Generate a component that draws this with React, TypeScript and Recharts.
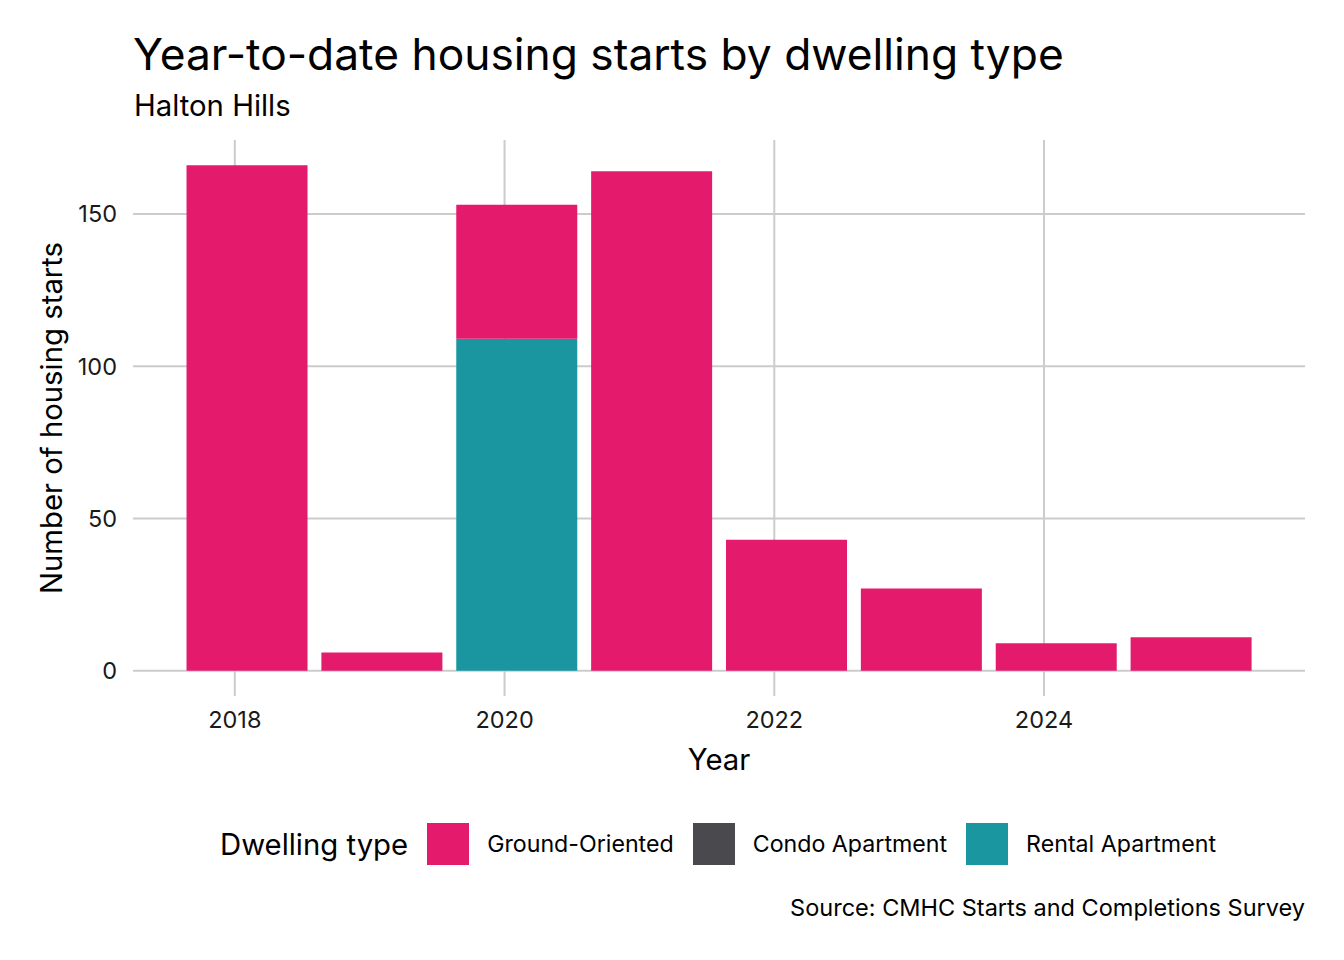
import React from "react";
import { BarChart, Bar, XAxis, YAxis, CartesianGrid } from "recharts";

// Bar positions on the time axis (year-to-date periods) and values
const periods = [2018.09, 2019.09, 2020.09, 2021.09, 2022.09, 2023.09, 2024.09, 2025.09];
const groundOriented = [166, 6, 44, 164, 43, 27, 9, 11];
const condoApartment = [0, 0, 0, 0, 0, 0, 0, 0];
const rentalApartment = [0, 0, 109, 0, 0, 0, 0, 0];
const xTicks = [2018, 2020, 2022, 2024];
const yTicks = [0, 50, 100, 150];

const seriesNames = ["Ground-Oriented", "Condo Apartment", "Rental Apartment"];
const seriesColors = ["#E41A6D", "#4A494E", "#1A96A0"];

const data = periods.map((p, i) => ({
  x: p,
  ground: groundOriented[i],
  condo: condoApartment[i],
  rental: rentalApartment[i],
}));

const FONT = "Inter, 'Noto Sans', sans-serif";

const LegendBlock = () => (
  <div
    style={{
      position: "absolute",
      left: 220,
      top: 823,
      height: 42,
      display: "flex",
      alignItems: "center",
      fontFamily: FONT,
      color: "#000",
      whiteSpace: "nowrap",
    }}
  >
    <span style={{ fontSize: 29.3, marginRight: 19 }}>Dwelling type</span>
    {seriesNames.map((n, i) => (
      <span key={n} style={{ display: "flex", alignItems: "center", marginRight: 19 }}>
        <span
          style={{
            display: "inline-block",
            width: 42,
            height: 42,
            background: seriesColors[i],
            marginRight: 18,
          }}
        />
        <span style={{ fontSize: 23.2 }}>{n}</span>
      </span>
    ))}
  </div>
);

export default function App() {
  return (
    <div
      style={{
        position: "absolute",
        left: 0,
        top: 0,
        width: 1344,
        height: 960,
        background: "#fff",
        fontFamily: FONT,
        overflow: "hidden",
      }}
    >
      <div
        style={{
          position: "absolute",
          left: 133,
          top: 27,
          fontSize: 44.3,
          lineHeight: "54px",
          color: "#000",
          whiteSpace: "nowrap",
        }}
      >
        Year-to-date housing starts by dwelling type
      </div>
      <div
        style={{
          position: "absolute",
          left: 134,
          top: 89,
          fontSize: 29.3,
          lineHeight: "34px",
          color: "#000",
          whiteSpace: "nowrap",
        }}
      >
        Halton Hills
      </div>
      <div
        style={{
          position: "absolute",
          left: 52,
          top: 418,
          transform: "translate(-50%, -50%) rotate(-90deg)",
          fontSize: 29.3,
          lineHeight: "34px",
          color: "#000",
          whiteSpace: "nowrap",
        }}
      >
        Number of housing starts
      </div>
      <div
        style={{
          position: "absolute",
          left: 719,
          top: 760,
          transform: "translate(-50%, -50%)",
          fontSize: 29.3,
          lineHeight: "34px",
          color: "#000",
          whiteSpace: "nowrap",
        }}
      >
        Year
      </div>
      <div
        style={{
          position: "absolute",
          right: 39,
          top: 894,
          fontSize: 23.5,
          lineHeight: "28px",
          color: "#000",
          whiteSpace: "nowrap",
        }}
      >
        Source: CMHC Starts and Completions Survey
      </div>
      <div style={{ position: "absolute", left: 0, top: 0 }}>
        <BarChart
          width={1344}
          height={960}
          data={data}
          margin={{ top: 140, right: 39, bottom: 234, left: 0 }}
        >
          <CartesianGrid stroke="#CCCCCC" strokeWidth={2} syncWithTicks />
          <XAxis
            dataKey="x"
            type="number"
            domain={[2017.245, 2025.935]}
            allowDataOverflow
            ticks={xTicks}
            tickLine={false}
            axisLine={false}
            tickSize={0}
            tickMargin={15}
            height={30}
            tick={{ fill: "#1a1a1a", fontSize: 23.5, fontFamily: FONT }}
          />
          <YAxis
            type="number"
            domain={[-8.3, 174.3]}
            allowDataOverflow
            ticks={yTicks}
            width={133}
            tickLine={false}
            axisLine={false}
            tickSize={0}
            tickMargin={16}
            tick={{ fill: "#1a1a1a", fontSize: 23.5, fontFamily: FONT }}
          />
          <Bar dataKey="rental" name={seriesNames[2]} stackId="s" fill={seriesColors[2]} barSize={121} isAnimationActive={false} />
          <Bar dataKey="condo" name={seriesNames[1]} stackId="s" fill={seriesColors[1]} barSize={121} isAnimationActive={false} />
          <Bar dataKey="ground" name={seriesNames[0]} stackId="s" fill={seriesColors[0]} barSize={121} isAnimationActive={false} />
        </BarChart>
      </div>
      <LegendBlock />
    </div>
  );
}
